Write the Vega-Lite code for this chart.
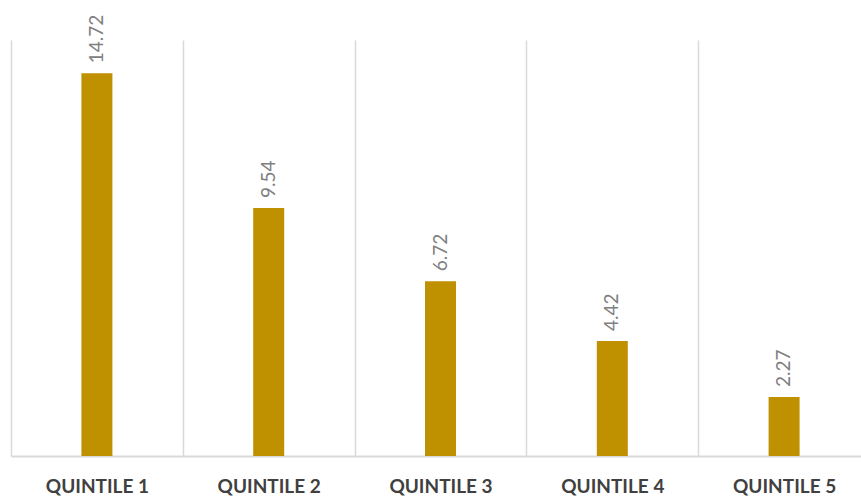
{
  "$schema": "https://vega.github.io/schema/vega-lite/v6.json",
  "autosize": {"type": "none"},
  "padding": {"left": 11, "top": 40, "right": 0, "bottom": 47},
  "width": 850,
  "height": 416,
  "background": "white",
  "config": {"view": {"stroke": null}},
  "data": {"values": [
    {"quintile": "QUINTILE 1", "value": 14.72},
    {"quintile": "QUINTILE 2", "value": 9.54},
    {"quintile": "QUINTILE 3", "value": 6.72},
    {"quintile": "QUINTILE 4", "value": 4.42},
    {"quintile": "QUINTILE 5", "value": 2.27}
  ]},
  "encoding": {
    "x": {
      "field": "quintile", "type": "nominal", "sort": null,
      "scale": {"range": [0, 859], "paddingInner": 0, "paddingOuter": 0},
      "axis": {
        "title": null, "labelAngle": 0, "ticks": false, "tickBand": "extent",
        "grid": true, "gridColor": "#d9d9d9", "gridWidth": 1.5,
        "domainColor": "#d9d9d9", "domainWidth": 2,
        "labelFont": "Lato", "labelFontWeight": "bold", "labelFontSize": 19,
        "labelColor": "#404040", "labelPadding": 21, "labelBaseline": "top"
      }
    },
    "y": {
      "field": "value", "type": "quantitative",
      "scale": {"domain": [0, 16], "nice": false, "zero": true},
      "axis": null
    }
  },
  "layer": [
    {"mark": {"type": "bar", "color": "#BF9000", "width": 31}},
    {
      "mark": {"type": "text", "angle": 270, "align": "left", "baseline": "middle", "dx": 10, "font": "Lato", "fontSize": 19, "color": "#808080"},
      "encoding": {"text": {"field": "value", "type": "quantitative", "format": ".2f"}}
    }
  ]
}
